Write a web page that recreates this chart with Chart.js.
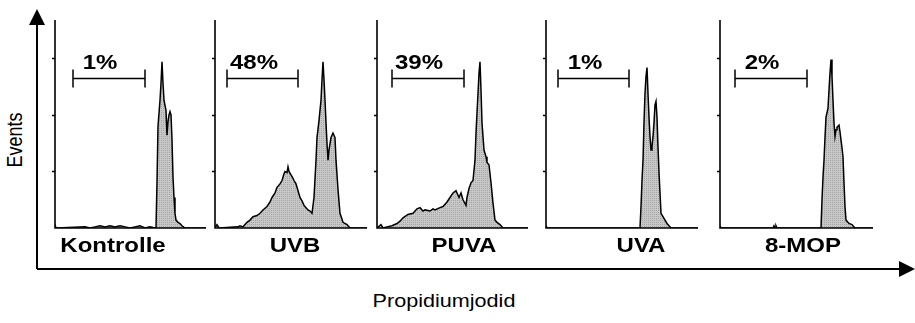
<!DOCTYPE html>
<html>
<head>
<meta charset="utf-8">
<script src="https://cdn.jsdelivr.net/npm/chart.js"></script>
<style>
    body { margin: 0; background: #fff; }
    #page { position: relative; width: 915px; height: 323px; overflow: hidden; font-family: "Liberation Sans", Arial, sans-serif; color: #000; }
    .panel { position: absolute; top: 0; height: 240px; }
    .txt { position: absolute; white-space: nowrap; line-height: 1; transform: translateX(-50%) scaleX(1.2); }
    .bold { font-weight: bold; font-size: 20px; }
</style>
</head>
<body>
<div id="page">
    <svg width="915" height="323" style="position:absolute;left:0;top:0">
        <line x1="37" y1="269" x2="37" y2="22" stroke="#000" stroke-width="2"/>
        <polygon points="37,9 29,25 45,25" fill="#000"/>
        <line x1="37" y1="269" x2="902" y2="269" stroke="#000" stroke-width="2"/>
        <polygon points="915,269 899,261 899,277" fill="#000"/>
    </svg>
    <div class="txt" style="left:15px;top:131px;font-size:18px;transform:translateX(-50%) rotate(-90deg) scaleY(1.2)">Events</div>
    <div class="txt" style="left:444px;top:292px;font-size:18px">Propidiumjodid</div>
</div>
<script>
    // samples and gate results
    const categories = ['Kontrolle', 'UVB', 'PUVA', 'UVA', '8-MOP'];
    const percents = ['1%', '48%', '39%', '1%', '2%'];
    const gateStart = [18, 12, 15, 12, 15];
    const gateEnd = [90, 83, 87, 83, 87];
    const gateLevel = 133;
    const yTicks = [50, 100, 150];

    // histograms: channel / events
    const kontrolleCh = [0, 1, 2, 30, 35, 40, 45, 50, 55, 60, 65, 70, 75, 80, 85, 90, 95, 100, 101, 102, 103, 105, 106, 107, 108, 109, 111, 112, 113, 114, 115, 116, 117, 118, 119, 120, 121, 123, 125, 127, 130, 151];
    const kontrolleEv = [3, 0, 0, 1, 0, 1, 2, 1, 2, 1, 2, 1, 0, 1, 2, 0, 1, 0, 0, 40, 90, 113, 128, 147, 128, 113, 104, 82, 94, 100, 103, 100, 78, 45, 27, 13, 7, 5, 4, 2, 0, 0];
    const uvbCh = [0, 2, 4, 23, 25, 28, 32, 35, 38, 42, 45, 48, 52, 55, 57, 60, 62, 65, 67, 69, 70, 72, 73, 74, 76, 78, 79, 81, 82, 85, 87, 89, 91, 93, 95, 97, 99, 101, 102, 104, 106, 107, 108, 109, 110, 111, 112, 113, 114, 116, 118, 120, 121, 123, 125, 128, 132, 135, 152];
    const uvbEv = [0, 3, 0, 1, 2, 1, 5, 7, 10, 11, 13, 16, 19, 23, 27, 31, 36, 39, 42, 48, 50, 49, 54, 50, 47, 44, 42, 39, 36, 27, 24, 20, 18, 16, 15, 13, 27, 60, 80, 95, 113, 131, 147, 131, 113, 93, 75, 60, 69, 80, 84, 80, 60, 34, 13, 5, 3, 0, 0];
    const puvaCh = [0, 4, 6, 10, 15, 20, 23, 26, 31, 36, 40, 43, 46, 48, 53, 56, 58, 63, 66, 70, 73, 76, 79, 82, 84, 86, 89, 90, 92, 94, 96, 98, 99, 100, 101, 102, 103, 104, 105, 107, 109, 110, 112, 114, 116, 118, 120, 123, 126, 151];
    const puvaEv = [0, 3, 0, 1, 2, 4, 6, 9, 12, 13, 17, 18, 15, 16, 15, 17, 16, 18, 19, 23, 27, 31, 33, 27, 31, 25, 20, 27, 35, 40, 42, 60, 84, 102, 119, 137, 147, 122, 93, 69, 63, 58, 56, 40, 22, 7, 5, 3, 0, 0];
    const uvaCh = [0, 1, 94, 95, 96, 97, 98, 99, 100, 101, 102, 103, 104, 105, 106, 107, 108, 109, 110, 111, 112, 113, 114, 115, 117, 119, 121, 123, 125, 152];
    const uvaEv = [2, 0, 0, 19, 42, 60, 93, 119, 134, 142, 119, 98, 81, 69, 72, 81, 93, 109, 112, 98, 72, 49, 31, 13, 10, 7, 4, 2, 0, 0];
    const mopCh = [0, 1, 53, 54, 55, 56, 57, 101, 102, 103, 104, 105, 106, 108, 109, 110, 111, 112, 113, 114, 115, 116, 117, 119, 120, 121, 122, 123, 124, 125, 126, 129, 132, 135, 153];
    const mopEv = [2, 0, 0, 2, 0, 2, 0, 0, 25, 45, 60, 80, 98, 106, 122, 137, 149, 134, 113, 93, 81, 87, 89, 91, 85, 78, 71, 63, 40, 19, 7, 4, 3, 0, 0];

    const channels = [kontrolleCh, uvbCh, puvaCh, uvaCh, mopCh];
    const events = [kontrolleEv, uvbEv, puvaEv, uvaEv, mopEv];

    // layout
    const panelLeft = [55, 215, 377, 546, 720];
    const panelWidth = [151, 152, 151, 152, 153];
    const labelCenter = [113, 295, 464, 641, 803];
    const pad = 8;

    function stipple() {
        const c = document.createElement('canvas');
        c.width = 2; c.height = 2;
        const g = c.getContext('2d');
        g.fillStyle = '#c8c8c8'; g.fillRect(0, 0, 2, 2);
        g.fillStyle = '#a4a4a4'; g.fillRect(0, 0, 1, 1);
        return g.createPattern(c, 'repeat');
    }

    const panelAxes = {
        id: 'panelAxes',
        afterDatasetsDraw(chart, args, opts) {
            const { ctx, chartArea: a, scales: { x, y } } = chart;
            ctx.save();
            ctx.strokeStyle = '#000';
            ctx.lineWidth = 1.6;
            ctx.beginPath();
            ctx.moveTo(a.left, a.top); ctx.lineTo(a.left, a.bottom); ctx.lineTo(a.right, a.bottom);
            yTicks.forEach(v => {
                const py = Math.round(y.getPixelForValue(v)) + 0.5;
                ctx.moveTo(a.left - 3, py); ctx.lineTo(a.left, py);
            });
            ctx.stroke();
            const g0 = x.getPixelForValue(opts.from), g1 = x.getPixelForValue(opts.to);
            const gy = Math.round(y.getPixelForValue(gateLevel)) + 0.5;
            ctx.lineWidth = 1.5;
            ctx.beginPath();
            ctx.moveTo(g0, gy); ctx.lineTo(g1, gy);
            ctx.moveTo(g0, gy - 9); ctx.lineTo(g0, gy + 9);
            ctx.moveTo(g1, gy - 9); ctx.lineTo(g1, gy + 9);
            ctx.stroke();
            ctx.restore();
            const cx = panelLeft[opts.idx] - pad + (g0 + g1) / 2 - 9;
            opts.label.style.left = cx + 'px';
        }
    };

    const page = document.getElementById('page');
    const fillPattern = stipple();

    categories.forEach((name, i) => {
        const canvas = document.createElement('canvas');
        canvas.className = 'panel';
        canvas.style.left = (panelLeft[i] - pad) + 'px';
        canvas.width = panelWidth[i] + 2 * pad;
        canvas.height = 240;
        canvas.style.width = canvas.width + 'px';
        canvas.style.height = '240px';
        page.appendChild(canvas);

        const pct = document.createElement('div');
        pct.className = 'txt bold';
        pct.style.top = '52px';
        pct.textContent = percents[i];
        page.appendChild(pct);

        const lbl = document.createElement('div');
        lbl.className = 'txt bold';
        lbl.style.top = '235px';
        lbl.style.left = labelCenter[i] + 'px';
        lbl.textContent = name;
        page.appendChild(lbl);

        new Chart(canvas.getContext('2d'), {
            type: 'line',
            data: {
                datasets: [{
                    label: name,
                    data: channels[i].map((c, k) => ({ x: c, y: events[i][k] })),
                    borderColor: '#000',
                    borderWidth: 1.5,
                    backgroundColor: fillPattern,
                    fill: 'origin',
                    pointRadius: 0,
                    tension: 0
                }]
            },
            options: {
                responsive: false,
                animation: false,
                events: [],
                layout: { padding: { left: pad, right: pad, top: 20, bottom: 12 } },
                scales: {
                    x: { type: 'linear', min: 0, max: panelWidth[i], display: false },
                    y: { min: 0, max: 184, display: false }
                },
                plugins: {
                    legend: { display: false },
                    tooltip: { enabled: false },
                    panelAxes: { from: gateStart[i], to: gateEnd[i], idx: i, label: pct }
                }
            },
            plugins: [panelAxes]
        });
    });
</script>
</body>
</html>
